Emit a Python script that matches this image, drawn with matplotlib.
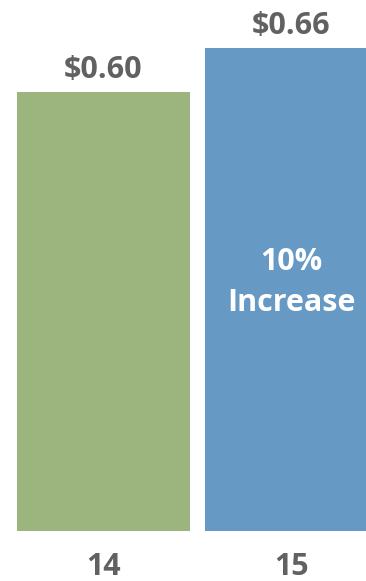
import numpy as np
import matplotlib
matplotlib.use('Agg')
import matplotlib.pyplot as plt

# Datos
years = ['14', '15']
prices = np.array([0.60, 0.66])
value_labels = ['$0.60', '$0.66']
note_lines = ['10%', 'Increase']

color_green = '#9cb57e'
color_blue = '#6699c4'
color_text = '#616161'

plt.rcParams['font.family'] = ['Open Sans', 'DejaVu Sans']

fig = plt.figure(figsize=(3.66, 5.81), dpi=100)
ax = fig.add_axes([0, 50 / 581, 1, 531 / 581])

x = np.arange(len(years))
bars = ax.bar(x, prices, width=0.92, color=[color_green, color_blue])

ax.set_xlim(-0.5505, 1.3963)
ax.set_ylim(0, 0.7257)
ax.axis('off')

fs = 22

# Valores arriba de cada barra
for i in range(len(years)):
    ax.annotate(value_labels[i], (x[i], prices[i]), xytext=(0, 14),
                textcoords='offset pixels', ha='center', va='baseline',
                fontsize=fs, fontweight='bold', color=color_text)
    # Etiqueta del eje x
    ax.annotate(years[i], (x[i], 0), xytext=(0, -44),
                textcoords='offset pixels', ha='center', va='baseline',
                fontsize=fs, fontweight='bold', color=color_text)

# Texto dentro de la barra azul
ax.annotate(note_lines[0], (x[1], 0), xytext=(0, 261),
            textcoords='offset pixels', ha='center', va='baseline',
            fontsize=fs, fontweight='bold', color='white')
ax.annotate(note_lines[1], (x[1], 0), xytext=(0, 220),
            textcoords='offset pixels', ha='center', va='baseline',
            fontsize=fs, fontweight='bold', color='white')

fig.savefig('out.png', dpi=100)
